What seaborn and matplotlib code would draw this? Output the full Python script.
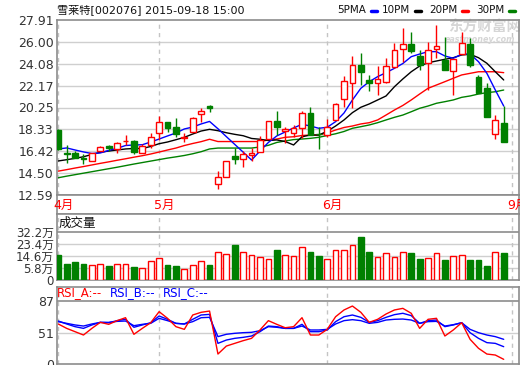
import matplotlib
matplotlib.use("Agg")
import matplotlib.pyplot as plt
from matplotlib.lines import Line2D
import numpy as np
import seaborn as sns

# ---- data ----
title = "雪莱特[002076] 2015-09-18 15:00"
month_labels = ["4月", "5月", "6月", "9月"]
month_pos = [0, 12, 32, 54]

opens = [18.28, 16.24, 16.24, 15.80, 15.57, 16.47, 16.91, 16.59, 17.32, 17.34,
         16.29, 16.97, 17.99, 18.95, 18.52, 17.62, 18.13, 19.68, 20.41, 13.53,
         14.19, 16.00, 15.77, 16.07, 16.38, 17.47, 19.07, 18.15, 18.05, 18.43,
         19.74, 17.95, 17.84, 19.16, 20.99, 22.37, 23.97, 22.66, 22.37, 22.51,
         23.82, 25.35, 25.81, 24.76, 24.17, 25.35, 24.41, 23.47, 24.93, 25.81,
         22.95, 21.93, 17.90, 18.87]
closes = [16.59, 16.22, 15.86, 15.78, 16.24, 16.82, 16.68, 17.12, 17.36, 16.38,
          16.88, 17.64, 18.95, 18.48, 17.93, 17.66, 19.31, 19.94, 20.18, 14.14,
          15.57, 15.74, 16.18, 16.29, 17.40, 19.07, 18.52, 18.40, 18.45, 19.74,
          17.84, 17.90, 18.57, 20.56, 22.57, 23.97, 23.38, 22.42, 22.72, 23.88,
          25.28, 25.81, 25.22, 23.97, 25.28, 25.63, 23.53, 24.47, 25.87, 23.97,
          21.55, 19.44, 19.16, 17.26]
highs = [18.35, 16.97, 16.44, 16.15, 16.26, 16.88, 16.95, 17.20, 17.84, 17.40,
         17.03, 17.99, 19.53, 18.95, 19.31, 17.99, 19.45, 20.18, 20.45, 14.72,
         15.60, 16.73, 16.47, 16.70, 17.78, 19.10, 19.94, 18.55, 18.72, 19.97,
         20.27, 18.57, 19.22, 20.62, 23.01, 24.76, 24.99, 23.10, 23.88, 24.56,
         25.87, 27.18, 26.89, 25.28, 26.01, 27.47, 26.45, 24.50, 26.89, 26.31,
         23.10, 22.42, 19.59, 20.38]
lows = [16.55, 15.36, 15.80, 15.30, 15.55, 16.40, 16.47, 16.29, 16.97, 16.18,
        16.24, 16.68, 17.40, 18.08, 17.69, 17.26, 18.13, 19.01, 19.88, 13.09,
        14.15, 15.28, 15.02, 15.60, 16.38, 17.47, 17.84, 17.15, 17.69, 17.55,
        17.84, 16.59, 17.64, 19.16, 20.27, 20.18, 22.22, 21.72, 21.34, 22.40,
        23.70, 24.26, 24.99, 23.53, 21.78, 24.56, 23.53, 21.34, 24.90, 23.82,
        21.50, 19.44, 17.47, 17.26]

ma5 = [16.62, 16.71, 16.53, 16.36, 16.22, 16.27, 16.49, 16.68, 16.92, 16.97,
       16.99, 17.23, 17.49, 17.76, 18.02, 18.37, 18.54, 18.81, 19.03, 18.39,
       17.70, 17.02, 16.34, 15.65, 16.44, 17.19, 17.76, 18.11, 18.46, 18.78,
       18.63, 18.43, 18.52, 19.01, 19.77, 20.91, 21.93, 22.51, 22.95, 23.30,
       23.68, 24.10, 24.70, 24.93, 25.14, 25.14, 24.76, 24.56, 24.91, 24.93,
       24.26, 23.24, 21.78, 20.38]
ma10 = [15.57, 15.68, 15.80, 15.94, 16.14, 16.33, 16.44, 16.53, 16.62, 16.66,
        16.66, 16.84, 17.08, 17.23, 17.43, 17.64, 17.93, 18.19, 18.34, 18.22,
        18.04, 17.90, 17.78, 17.54, 17.47, 17.36, 17.41, 17.27, 16.97, 17.69,
        17.84, 17.84, 18.17, 18.63, 19.16, 19.80, 20.27, 20.56, 20.91, 21.26,
        22.07, 22.75, 23.38, 23.88, 24.17, 24.32, 24.47, 24.61, 24.85, 24.91,
        24.61, 24.12, 23.38, 22.66]
ma20 = [14.68, 14.81, 14.95, 15.08, 15.22, 15.36, 15.49, 15.63, 15.76, 15.90,
        16.03, 16.18, 16.35, 16.53, 16.70, 16.92, 17.10, 17.26, 17.47, 17.27,
        17.27, 17.27, 17.27, 17.27, 17.27, 17.41, 17.49, 17.64, 17.69, 17.80,
        17.84, 17.84, 18.02, 18.28, 18.50, 18.63, 18.81, 18.92, 19.16, 19.59,
        20.03, 20.43, 20.91, 21.43, 21.93, 22.22, 22.51, 22.81, 23.10, 23.24,
        23.38, 23.38, 23.38, 23.30]
ma30 = [14.10, 14.24, 14.37, 14.50, 14.63, 14.76, 14.89, 15.02, 15.16, 15.30,
        15.43, 15.56, 15.69, 15.82, 15.93, 16.05, 16.20, 16.38, 16.62, 16.70,
        16.70, 16.70, 16.70, 16.70, 16.79, 16.94, 17.19, 17.32, 17.44, 17.49,
        17.55, 17.64, 17.80, 17.95, 18.15, 18.43, 18.57, 18.72, 18.92, 19.16,
        19.39, 19.59, 19.88, 20.18, 20.38, 20.62, 20.76, 20.91, 21.14, 21.26,
        21.43, 21.55, 21.63, 21.78]

volumes = [15.3, 8.7, 10.2, 8.7, 8.0, 8.7, 7.3, 8.7, 8.7, 6.5,
           5.6, 10.7, 12.9, 8.0, 7.3, 4.8, 8.0, 10.7, 8.0, 17.8,
           16.1, 22.7, 17.3, 15.3, 13.6, 12.2, 19.0, 15.3, 14.6, 21.0,
           17.5, 14.6, 12.2, 18.8, 18.8, 22.7, 28.5, 17.5, 13.6, 16.6,
           13.6, 17.3, 16.8, 12.4, 13.1, 16.6, 11.7, 14.6, 15.3, 11.7,
           11.7, 7.3, 17.3, 16.8]

rsi_a = [61.4, 56.5, 52.8, 49.1, 56.5, 63.2, 61.0, 65.1, 68.4, 49.9,
         56.5, 62.8, 75.1, 67.7, 58.4, 55.4, 71.4, 74.4, 75.8, 27.9,
         36.8, 39.8, 42.8, 45.4, 54.7, 65.1, 61.0, 57.2, 58.4, 68.4,
         49.1, 49.1, 55.4, 69.5, 77.0, 81.4, 74.4, 63.2, 66.6, 72.5,
         77.0, 78.8, 73.3, 56.5, 66.6, 67.7, 48.0, 54.7, 62.8, 44.3,
         34.3, 27.9, 26.8, 22.0]
rsi_b = [64.7, 61.4, 58.4, 56.5, 60.3, 63.2, 62.8, 65.1, 66.6, 57.7,
         60.3, 62.8, 70.3, 66.6, 62.1, 61.4, 66.6, 71.4, 72.1, 39.8,
         43.5, 45.4, 46.5, 48.0, 52.8, 59.1, 58.4, 56.5, 56.5, 61.0,
         52.8, 52.8, 54.7, 64.0, 69.5, 71.4, 68.8, 63.2, 65.1, 68.8,
         71.8, 73.3, 70.7, 62.1, 65.1, 65.8, 58.4, 60.3, 62.8, 51.7,
         45.4, 40.6, 39.8, 36.1]
rsi_c = [64.0, 62.1, 60.3, 59.1, 61.4, 63.2, 63.2, 64.3, 64.7, 59.5,
         61.0, 62.1, 67.7, 65.1, 62.1, 61.4, 64.0, 68.4, 68.8, 47.3,
         49.9, 51.0, 51.7, 52.1, 53.9, 58.4, 57.7, 56.5, 56.5, 59.1,
         54.7, 54.7, 55.4, 61.4, 65.1, 66.2, 65.1, 62.1, 63.2, 65.8,
         66.6, 66.9, 65.8, 62.1, 64.0, 64.3, 59.1, 60.6, 62.8, 55.4,
         51.7, 49.1, 47.3, 44.3]

price_ticks = [12.59, 14.50, 16.42, 18.33, 20.25, 22.17, 24.08, 26.00, 27.91]
vol_ticks = [5.8, 14.6, 23.4, 32.2]
rsi_ticks = [51, 87]

# ---- style ----
sns.set_style("white")
plt.rcParams["font.family"] = ["DejaVu Sans", "Noto Sans CJK SC"]

RED, GREEN, BLUE = "#ff0000", "#008000", "#0000ff"
FRAME, GRID, TXT = "#8c8c8c", "#cfcfcf", "#333333"
W, H = 520, 365


def rect(x0, y0, x1, y1):
    return [x0 / W, 1 - y1 / H, (x1 - x0) / W, (y1 - y0) / H]


def ftext(x, y, s, **kw):
    fig.text(x / W, 1 - y / H, s, va="center", **kw)


fig = plt.figure(figsize=(5.2, 3.65), dpi=100)
ax = fig.add_axes(rect(56.5, 20, 519, 195))
ax_date = fig.add_axes(rect(56.5, 195, 519, 214))
ax_vol = fig.add_axes(rect(56.5, 214, 519, 280))
ax_rsi = fig.add_axes(rect(56.5, 287, 519, 364))

idx = np.arange(len(opens))
o, c = np.array(opens), np.array(closes)
up = c >= o
xlo, xhi = -0.21, 54.82

for a in (ax, ax_date, ax_vol, ax_rsi):
    a.set_xlim(xlo, xhi)
    a.set_xticks([])
    for s in a.spines.values():
        s.set_color(FRAME)
        s.set_linewidth(1.2)
    a.tick_params(axis="y", length=0, pad=2, labelsize=9, labelcolor=TXT)

for a in (ax, ax_vol, ax_rsi):
    for m in month_pos:
        a.axvline(m, color="#c4c4c4", lw=1, ls=(0, (3, 3)), zorder=0.6)

# ---- candles + moving averages ----
ax.set_ylim(price_ticks[0], price_ticks[-1])
ax.set_yticks(price_ticks)
ax.set_yticklabels([f"{t:.2f}" for t in price_ticks])
for t in price_ticks[1:-1]:
    ax.axhline(t, color=GRID, lw=1, zorder=0.5)

ax.text(448 / W, 1 - 27 / H, "东方财富网", transform=fig.transFigure, color="#d6d6d6",
        fontsize=10.5, fontweight="bold", va="center", family=["Noto Sans CJK SC"], zorder=0.7)
ax.text(445 / W, 1 - 40 / H, "eastmoney.com", transform=fig.transFigure, color="#d6d6d6",
        fontsize=5.8, style="italic", fontweight="bold", va="center", zorder=0.7)

for vals, col in [(ma30, GREEN), (ma20, RED), (ma10, "black"), (ma5, BLUE)]:
    sns.lineplot(x=idx, y=vals, ax=ax, color=col, lw=1, legend=False, zorder=2)

wick_cols = [RED if u else GREEN for u in up]
ax.vlines(idx, lows, highs, colors=wick_cols, lw=1, zorder=3)
body_h = np.maximum(np.abs(c - o), 0.03)
ax.bar(idx, body_h, bottom=np.minimum(o, c), width=0.68,
       color=["white" if u else GREEN for u in up], edgecolor=wick_cols, lw=1, zorder=4)
ax.set_ylabel("")

# ---- month strip ----
ax_date.set_yticks([])
ax_date.set_ylim(0, 1)
for lab, m in zip(month_labels, month_pos):
    ax_date.text(m - 0.62, 0.45, lab, color=RED, fontsize=9, ha="left", va="center", clip_on=False)

# ---- volume ----
vlo, vhi = -3.0, 45.4
ax_vol.set_ylim(vlo, vhi)
ax_vol.set_yticks([vlo] + vol_ticks)
ax_vol.set_yticklabels(["0"] + [f"{t:.1f}万" for t in vol_ticks], fontsize=8.5)
for t in vol_ticks[:-1]:
    ax_vol.axhline(t, color=GRID, lw=1, zorder=0.5)
ax_vol.axhline(vol_ticks[-1], color=FRAME, lw=1.2, zorder=0.5)
ax_vol.bar(idx, np.array(volumes) - vlo, bottom=vlo, width=0.68,
           color=["white" if u else GREEN for u in up], edgecolor=wick_cols, lw=1, zorder=3)
ax_vol.text(0.005, 1 - 9 / 66, "成交量", transform=ax_vol.transAxes, fontsize=9,
            color="#111111", va="center", ha="left")

# ---- RSI ----
rlo, rhi = 16.8, 102.6
ax_rsi.set_ylim(rlo, rhi)
ax_rsi.set_yticks([rlo] + rsi_ticks)
ax_rsi.set_yticklabels(["0"] + [str(t) for t in rsi_ticks])
ax_rsi.axhline(rsi_ticks[0], color=GRID, lw=1, zorder=0.5)
ax_rsi.axhline(rsi_ticks[1], color=FRAME, lw=1.2, zorder=0.5)
for vals, col in [(rsi_c, BLUE), (rsi_b, BLUE), (rsi_a, RED)]:
    sns.lineplot(x=idx, y=vals, ax=ax_rsi, color=col, lw=1, legend=False, zorder=2)
ax_rsi.set_ylabel("")
ftext(57, 293, "RSI_A:--", color=RED, fontsize=8.5)
ftext(110, 293, "RSI_B:--", color=BLUE, fontsize=8.5)
ftext(163, 293, "RSI_C:--", color=BLUE, fontsize=8.5)

# ---- header ----
ftext(57, 10, title, fontsize=8, color="#111111")
legend_items = [("5PMA", 371, BLUE), ("10PM", 415, "black"),
                ("20PM", 462, RED), ("30PM", 509, GREEN)]
for lab, mx, col in legend_items:
    ftext(mx - 5, 10, lab, fontsize=7.5, color="#111111", ha="right")
    fig.add_artist(Line2D([mx / W, (mx + 6) / W], [1 - 10.5 / H] * 2, color=col, lw=2.5))

fig.savefig("out.png", dpi=100)
